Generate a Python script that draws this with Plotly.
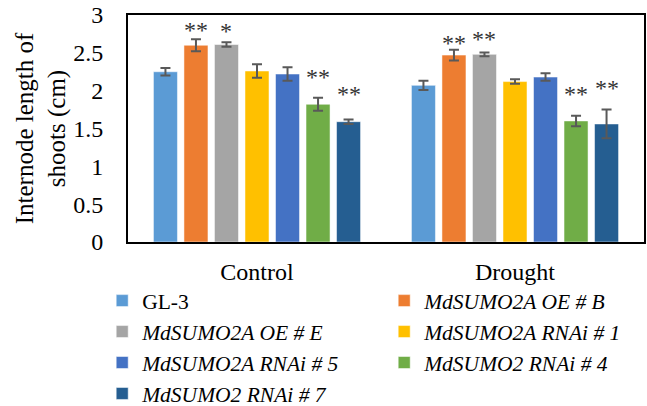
import plotly.graph_objects as go

categories = ["Control", "Drought"]
series_names = ["GL-3", "<i>MdSUMO2A OE # B</i>", "<i>MdSUMO2A OE # E</i>",
                "<i>MdSUMO2A RNAi # 1</i>", "<i>MdSUMO2A RNAi # 5</i>",
                "<i>MdSUMO2 RNAi # 4</i>", "<i>MdSUMO2 RNAi # 7</i>"]
colors = ["#5B9BD5", "#ED7D31", "#A5A5A5", "#FFC000", "#4472C4", "#70AD47", "#255E91"]

values = [
    [2.25, 2.07],
    [2.60, 2.47],
    [2.61, 2.48],
    [2.26, 2.12],
    [2.22, 2.18],
    [1.82, 1.60],
    [1.59, 1.56],
]
errors = [
    [0.05, 0.06],
    [0.08, 0.07],
    [0.03, 0.025],
    [0.09, 0.03],
    [0.09, 0.05],
    [0.085, 0.07],
    [0.03, 0.19],
]
# significance marks: (series index, category index, label, label height)
sig_series = [1, 2, 5, 6, 1, 2, 5, 6]
sig_cat = [0, 0, 0, 0, 1, 1, 1, 1]
sig_text = ["**", "*", "**", "**", "**", "**", "**", "**"]
sig_y = [2.80, 2.79, 2.18, 1.96, 2.63, 2.68, 1.96, 2.04]

FONT = "Liberation Serif"
W, H = 647, 406
ML, MR, MT, MB = 128, 3, 15, 164
BARGAP = 0.172
BARGROUPGAP = 0.213

fig = go.Figure()
for name, col, v, e in zip(series_names, colors, values, errors):
    fig.add_trace(go.Bar(
        x=categories, y=v, name=name,
        marker=dict(color=col, line=dict(color="rgba(255,255,255,0.5)", width=1)),
        error_y=dict(type="data", array=e, visible=True, color="#595959",
                     thickness=2, width=5),
    ))

plot_w = W - ML - MR
cat_w = plot_w / len(categories)
slot = cat_w * (1 - BARGAP) / len(series_names)
for s, c, t, y in zip(sig_series, sig_cat, sig_text, sig_y):
    fig.add_annotation(x=categories[c], y=y, text=t, showarrow=False,
                       xshift=(s - (len(series_names) - 1) / 2) * slot,
                       yshift=0, yanchor="middle",
                       font=dict(family=FONT, size=24, color="#333333"))

fig.update_layout(
    width=W, height=H,
    margin=dict(l=ML, r=MR, t=MT, b=MB, autoexpand=False),
    paper_bgcolor="white", plot_bgcolor="white",
    barmode="group", bargap=BARGAP, bargroupgap=BARGROUPGAP,
    font=dict(family=FONT, size=24, color="black"),
    showlegend=True,
    legend=dict(orientation="h", x=-0.05, xanchor="left", y=-0.168, yanchor="top",
                entrywidth=237, entrywidthmode="pixels",
                font=dict(family=FONT, size=21.5, color="black"),
                bgcolor="rgba(0,0,0,0)", tracegroupgap=0),
)
fig.update_xaxes(showline=True, linecolor="black", linewidth=2, mirror=True,
                 showgrid=False, ticks="outside", ticklen=7, tickcolor="rgba(0,0,0,0)",
                 tickfont=dict(family=FONT, size=24, color="black"))
fig.update_yaxes(range=[0, 3], dtick=0.5, tickformat="~g",
                 showline=True, linecolor="black", linewidth=2, mirror=True,
                 showgrid=False, zeroline=False,
                 ticks="outside", ticklen=18, tickcolor="rgba(0,0,0,0)",
                 tickfont=dict(family=FONT, size=24, color="black"),
                 title=dict(text="Internode length of<br>shoots (cm)",
                            font=dict(family=FONT, size=25, color="black"),
                            standoff=0))

fig.write_html("out.html", config={"displayModeBar": False},
               post_script="document.body.style.margin='0';document.body.style.overflow='hidden';")
